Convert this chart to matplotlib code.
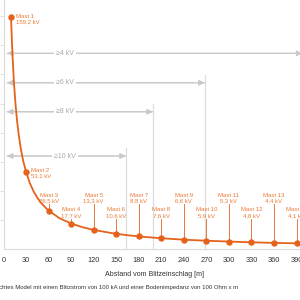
import matplotlib
matplotlib.use("Agg")
import matplotlib.pyplot as plt

plt.rcParams['font.family'] = ['Liberation Sans', 'DejaVu Sans']

# ---- data ----
mast_names = ["Mast 1", "Mast 2", "Mast 3", "Mast 4", "Mast 5", "Mast 6", "Mast 7",
              "Mast 8", "Mast 9", "Mast 10", "Mast 11", "Mast 12", "Mast 13", "Mast 14"]
mast_dist = [10, 30, 60, 90, 120, 150, 180, 210, 240, 270, 300, 330, 360, 390]
mast_kv = [159.2, 53.1, 26.5, 17.7, 13.3, 10.6, 8.8, 7.6, 6.6, 5.9, 5.3, 4.8, 4.4, 4.1]
mast_kv_labels = ["159,2 kV", "53,1 kV", "26,5 kV", "17,7 kV", "13,3 kV", "10,6 kV", "8,8 kV",
                  "7,6 kV", "6,6 kV", "5,9 kV", "5,3 kV", "4,8 kV", "4,4 kV", "4,1 kV"]

# curve
curve_dist = [10, 12, 14, 16, 18, 20, 23, 26, 30, 35, 40, 45, 50, 60, 75, 90, 105, 120,
              150, 180, 210, 240, 270, 300, 330, 360, 390, 400]
curve_kv = [159.2, 132.7, 113.7, 99.5, 88.4, 79.6, 69.2, 61.2, 53.1, 45.5, 39.8, 35.4, 31.8,
            26.5, 21.2, 17.7, 15.2, 13.3, 10.6, 8.8, 7.6, 6.6, 5.9, 5.3, 4.8, 4.4, 4.1, 4.0]

zone_labels = ["\u22654 kV", "\u22656 kV", "\u22658 kV", "\u226510 kV"]
zone_row_kv = [134.5, 114.3, 94.4, 64.0]
zone_end_dist = [398, 268, 199, 163]

x_ticks = [0, 30, 60, 90, 120, 150, 180, 210, 240, 270, 300, 330, 360, 390]

# ---- style ----
ORANGE = "#E5621B"
ORANGE_TXT = "#EA7A35"
GRAY = "#C9C9C9"
GRAY_TXT = "#A8A8A8"

fig = plt.figure(figsize=(3, 3), dpi=100)
ax = fig.add_axes([3.5 / 300, (300 - 249.3) / 300, 296.5 / 300, 249.3 / 300])
ax.set_xlim(0, 296.5 / 0.7513)
ax.set_ylim(0, 249.3 / 1.457)

for s in ["top", "right"]:
    ax.spines[s].set_visible(False)
for s in ["left", "bottom"]:
    ax.spines[s].set_color("#DADADA")
    ax.spines[s].set_linewidth(0.8)

ax.set_xticks(x_ticks)
ax.tick_params(axis="x", length=0, pad=5.5, labelsize=5.3, labelcolor="#333333")
ax.set_yticks([20, 40, 60, 80, 100, 120, 140, 160])
ax.set_yticklabels([])
ax.tick_params(axis="y", length=3, color="#DADADA", width=0.6)

# zone arrows
label_x = 82
for lab, yk, xe in zip(zone_labels, zone_row_kv, zone_end_dist):
    ax.annotate("", xy=(4.5, yk), xytext=(xe, yk),
                arrowprops=dict(arrowstyle="-|>,head_length=0.35,head_width=0.17",
                                color=GRAY, lw=0.8, shrinkA=0, shrinkB=0,
                                mutation_scale=10), annotation_clip=False)
    ax.annotate("", xy=(xe, yk), xytext=(4.5, yk),
                arrowprops=dict(arrowstyle="-|>,head_length=0.35,head_width=0.17",
                                color=GRAY, lw=0.8, shrinkA=0, shrinkB=0,
                                mutation_scale=10), annotation_clip=False)
    ax.plot([xe, xe], [0, yk + 5.5], color="#DDDDDD", lw=0.9, zorder=1, clip_on=False)
    ax.text(label_x, yk, lab, fontsize=5, color=GRAY_TXT, ha="center", va="center",
            bbox=dict(boxstyle="square,pad=0.25", fc="white", ec="none"), zorder=3)

# curve and points
ax.plot(curve_dist, curve_kv, color=ORANGE, lw=1.3, zorder=4, clip_on=False)
ax.plot(mast_dist, mast_kv, "o", color=ORANGE, ms=3.6, zorder=5, clip_on=False)

# mast labels
ax.text(16.2, 161.5, mast_names[0] + "\n" + mast_kv_labels[0], fontsize=4.3,
        color=ORANGE_TXT, ha="left", va="top", linespacing=1.15)
ax.text(36.6, 55.8, mast_names[1] + "\n" + mast_kv_labels[1], fontsize=4.3,
        color=ORANGE_TXT, ha="left", va="top", linespacing=1.15)
for i in range(2, len(mast_dist)):
    base = 31.5 if i % 2 == 0 else 21.6
    ax.text(mast_dist[i], base, mast_names[i] + "\n" + mast_kv_labels[i], fontsize=4.3,
            color=ORANGE_TXT, ha="center", va="bottom", linespacing=1.15, clip_on=False)
    ax.plot([mast_dist[i], mast_dist[i]], [mast_kv[i], base - 0.6], color=ORANGE,
            lw=0.6, zorder=3, clip_on=False)

fig.text(154.5 / 300, (300 - 274) / 300, "Abstand vom Blitzeinschlag [m]", fontsize=5.1,
         color="#333333", ha="center", va="center")
fig.text(238 / 300, (300 - 287) / 300,
         "Vereinfachtes Model mit einen Blitzstrom von 100 kA und einer Bodenimpedanz von 100 Ohm x m",
         fontsize=4.35, color="#333333", ha="right", va="center")

fig.savefig("out.png", dpi=100)
